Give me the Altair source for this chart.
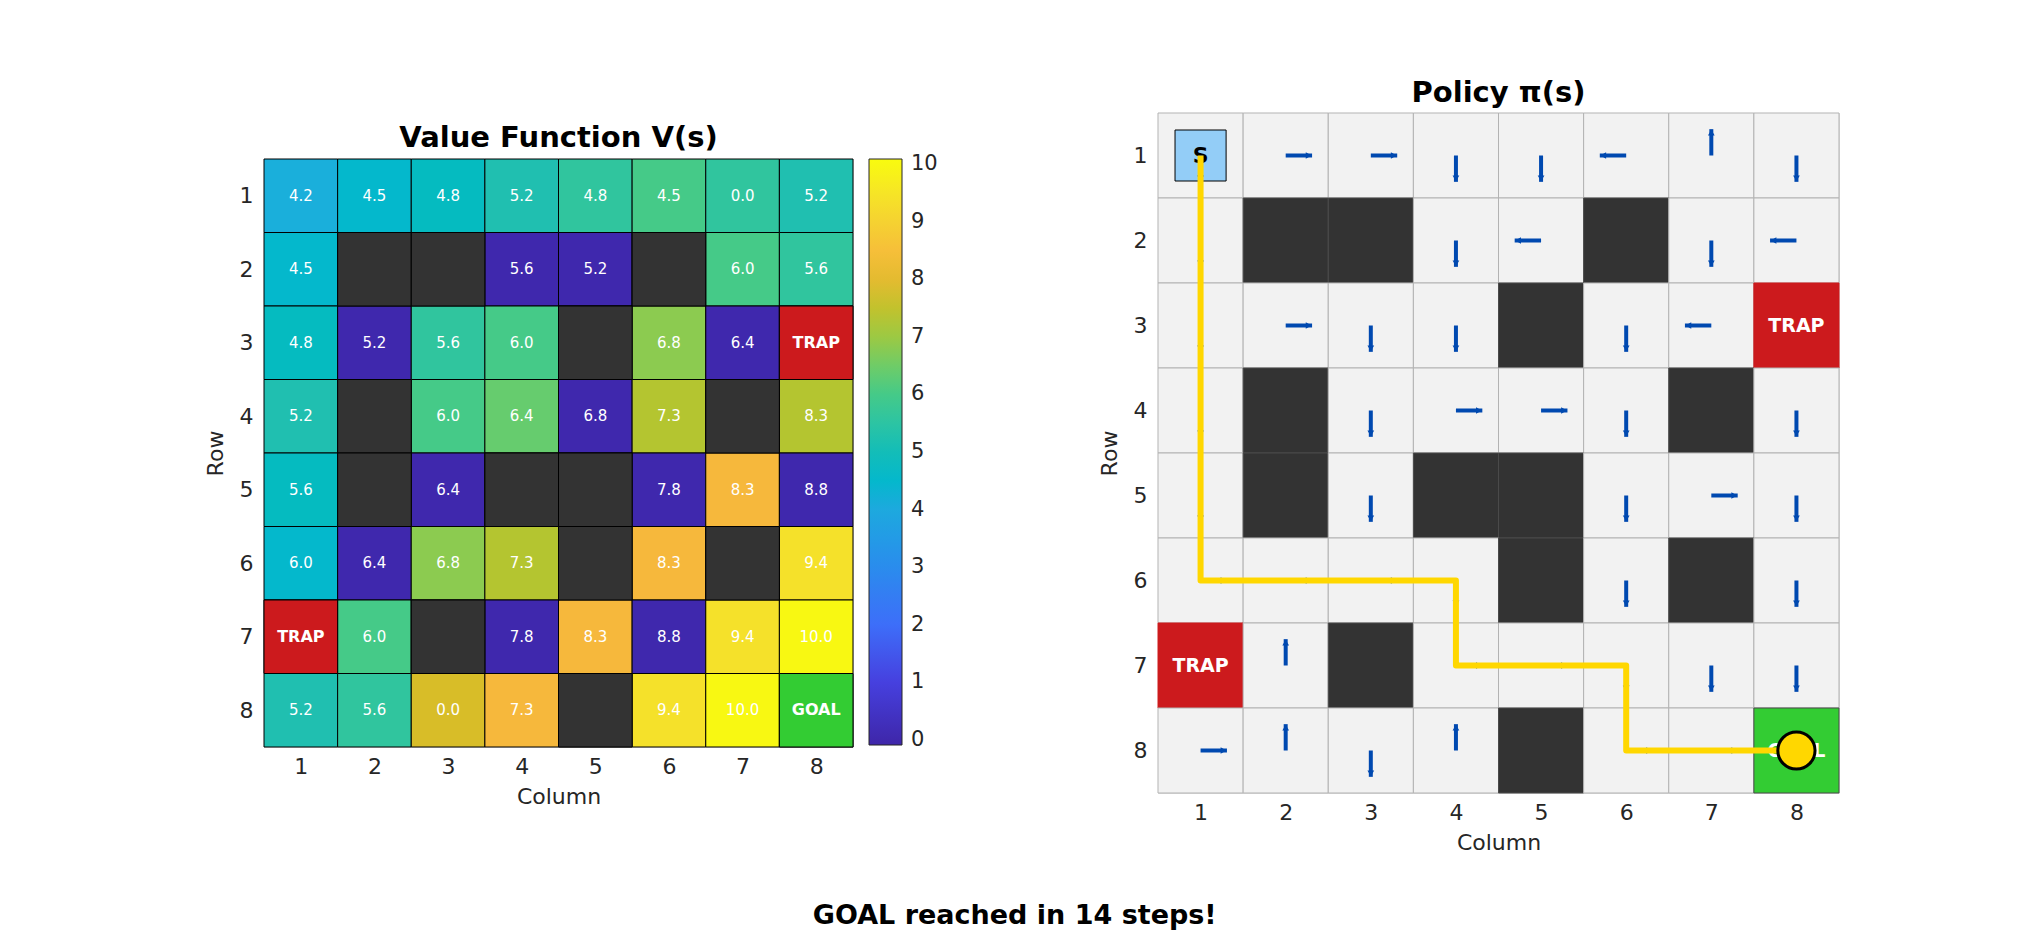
import altair as alt
import pandas as pd

# ---------------- data ----------------
TICKS = [1, 2, 3, 4, 5, 6, 7, 8]

# value matrix as coloured in the left panel (row-major); the printed numbers are its transpose
V = [
    [4.2, 4.5, 4.8, 5.2, 5.6, 6.0, 5.6, 5.2],
    [4.5, 0.0, 5.2, 0.0, 0.0, 6.4, 6.0, 5.6],
    [4.8, 0.0, 5.6, 6.0, 6.4, 6.8, 0.0, 0.0],
    [5.2, 5.6, 6.0, 6.4, 0.0, 7.3, 7.8, 7.3],
    [4.8, 5.2, 0.0, 6.8, 0.0, 0.0, 8.3, 0.0],
    [4.5, 0.0, 6.8, 7.3, 7.8, 8.3, 8.8, 9.4],
    [0.0, 6.0, 6.4, 0.0, 8.3, 0.0, 9.4, 10.0],
    [5.2, 5.6, 7.8, 8.3, 8.8, 9.4, 10.0, 10.0],
]

# S start, # wall, T trap, G goal
GRID = [
    "S.......",
    ".##..#..",
    "....#..T",
    ".#....#.",
    ".#.##...",
    "....#.#.",
    "T.#.....",
    "....#..G",
]

POLICY = [
    "DRRDDLUD",
    "D..DL.DL",
    "DRDD.DL.",
    "D.DRRD.D",
    "D.D..DRD",
    "RRRD.D.D",
    ".U.RRDDD",
    "RUDU.RR.",
]

PATH = [(1, 1), (2, 1), (3, 1), (4, 1), (5, 1), (6, 1), (6, 2), (6, 3), (6, 4),
        (7, 4), (7, 5), (7, 6), (8, 6), (8, 7), (8, 8)]

CBAR_VALUES = [-0.09, 1, 2, 3, 4.2, 4.5, 4.8, 5.2, 5.6, 6.0, 6.4, 6.8, 7.3, 7.8, 8.3, 9.4, 10.09]
CBAR_COLORS = ["#3e26a8", "#4640df", "#3d6ef9", "#2a8ced", "#1aafdb", "#04b8cc", "#05bbc0",
               "#20bfb0", "#30c59e", "#45ca88", "#66cc6e", "#8ccb50", "#b4c530", "#d8bd28",
               "#f6b83c", "#f5e12a", "#f9fb0e"]
CBAR_TICKS = [0, 1, 2, 3, 4, 5, 6, 7, 8, 9, 10]

KIND_FILL_LEFT = {"#": "#333333", "T": "#cc1a1d", "G": "#33cc33"}
KIND_FILL_RIGHT = {".": "#f2f2f2", "S": "#f2f2f2", "#": "#333333", "T": "#cc1a1d", "G": "#33cc33"}
KIND_STROKE_RIGHT = {".": "#b3b3b3", "S": "#b3b3b3", "#": "#4a4a4a", "T": "#cc1a1d", "G": "#4a4a4a"}
KIND_TEXT = {"T": "TRAP", "G": "GOAL"}

DIRS = {"U": (0, -1), "D": (0, 1), "L": (-1, 0), "R": (1, 0)}
ARROW_LEN = 0.31
HEAD_POS = 0.27
BLUE = "#0049b0"
FONT = "DejaVu Sans"
TXT = "#262626"

# ---------------- tables ----------------
rows = []
for r in range(8):
    for c in range(8):
        k = GRID[r][c]
        rows.append(dict(row=r + 1, col=c + 1, kind=k, v=V[r][c], label=V[c][r],
                         x1=c + 0.5, x2=c + 1.5, y1=r + 0.5, y2=r + 1.5,
                         lfill=KIND_FILL_LEFT.get(k, "none"),
                         rfill=KIND_FILL_RIGHT[k], rstroke=KIND_STROKE_RIGHT[k],
                         ktext=KIND_TEXT.get(k, ""),
                         sx1=c + 0.7, sx2=c + 1.3, sy1=r + 0.7, sy2=r + 1.3))
cells = pd.DataFrame(rows)

arrows = []
for r in range(8):
    for c in range(8):
        d = POLICY[r][c]
        if d in DIRS:
            dx, dy = DIRS[d]
            arrows.append(dict(dir=d, ax0=c + 1, ay0=r + 1,
                               ax1=c + 1 + ARROW_LEN * dx, ay1=r + 1 + ARROW_LEN * dy,
                               hx=c + 1 + HEAD_POS * dx, hy=r + 1 + HEAD_POS * dy))
arrows = pd.DataFrame(arrows)

path = pd.DataFrame([dict(step=i, row=p[0], col=p[1]) for i, p in enumerate(PATH)])
agent = path.tail(1)


def enc():
    xs = alt.Scale(domain=[0.5, 8.5], nice=False, zero=False)
    ys = alt.Scale(domain=[0.5, 8.5], nice=False, zero=False, reverse=True)
    axis_common = dict(values=TICKS, format="d", ticks=False, domain=False, grid=False,
                       labelFont=FONT, labelFontSize=22, labelColor=TXT,
                       titleFont=FONT, titleFontSize=22, titleFontWeight="normal",
                       titleColor=TXT)
    ax_x = alt.Axis(orient="bottom", labelPadding=9, titlePadding=9, **axis_common)
    ax_y = alt.Axis(orient="left", labelPadding=11, titlePadding=12, labelAngle=0, **axis_common)

    def X(f):
        return alt.X(f"{f}:Q", scale=xs, axis=ax_x, title="Column")

    def Y(f):
        return alt.Y(f"{f}:Q", scale=ys, axis=ax_y, title="Row")
    return X, Y


# ---------------- left: value function ----------------
X, Y = enc()
base = alt.Chart(cells)
cscale = alt.Scale(domain=CBAR_VALUES, range=CBAR_COLORS, interpolate="rgb")
legend = alt.Legend(orient="right", offset=16, direction="vertical", type="gradient",
                    gradientLength=586, gradientThickness=33, values=CBAR_TICKS,
                    labelFont=FONT, labelFontSize=21, labelColor=TXT, labelOffset=9,
                    labelOverlap=False, title=None, padding=0,
                    gradientStrokeColor=TXT, gradientStrokeWidth=1)

heat = base.mark_rect(stroke="black", strokeWidth=1).encode(
    x=X("x1"), x2="x2", y=Y("y1"), y2="y2",
    color=alt.Color("v:Q", scale=cscale, legend=legend))
over = base.transform_filter("datum.lfill != 'none'").mark_rect(stroke="black", strokeWidth=1).encode(
    x=X("x1"), x2="x2", y=Y("y1"), y2="y2", fill=alt.Fill("lfill:N", scale=None))
nums = base.transform_filter("datum.kind == '.' || datum.kind == 'S'").mark_text(
    color="white", font=FONT, fontSize=15).encode(
    x=X("col"), y=Y("row"), text=alt.Text("label:Q", format=".1f"))
ktxt = base.transform_filter("datum.ktext != ''").mark_text(
    color="white", font=FONT, fontSize=16, fontWeight="bold").encode(
    x=X("col"), y=Y("row"), text="ktext:N")

left = alt.layer(heat, over, nums, ktxt).properties(
    width=589, height=588,
    title=alt.Title("Value Function V(s)", font=FONT, fontSize=29, fontWeight="bold",
                    color="black", offset=6))

# ---------------- right: policy ----------------
X2, Y2 = enc()
rbase = alt.Chart(cells)
rcells = rbase.mark_rect(strokeWidth=1).encode(
    x=X2("x1"), x2="x2", y=Y2("y1"), y2="y2",
    fill=alt.Fill("rfill:N", scale=None), stroke=alt.Stroke("rstroke:N", scale=None))
start_box = rbase.transform_filter("datum.kind == 'S'").mark_rect(
    fill="#93cdf7", stroke="black", strokeWidth=1).encode(
    x=X2("sx1"), x2="sx2", y=Y2("sy1"), y2="sy2")
start_txt = rbase.transform_filter("datum.kind == 'S'").mark_text(
    color="black", font=FONT, fontSize=22, fontWeight="bold").encode(
    x=X2("col"), y=Y2("row"), text=alt.value("S"))
rktxt = rbase.transform_filter("datum.ktext != ''").mark_text(
    color="white", font=FONT, fontSize=19, fontWeight="bold").encode(
    x=X2("col"), y=Y2("row"), text="ktext:N")
shafts = alt.Chart(arrows).mark_rule(color=BLUE, strokeWidth=4).encode(
    x=X2("ax0"), x2="ax1", y=Y2("ay0"), y2="ay1")
heads = alt.Chart(arrows).mark_point(filled=True, color=BLUE, size=45, opacity=1).encode(
    x=X2("hx"), y=Y2("hy"),
    shape=alt.Shape("dir:N", legend=None,
                    scale=alt.Scale(domain=["U", "D", "L", "R"],
                                    range=["triangle-up", "triangle-down",
                                           "triangle-left", "triangle-right"])))
trail = alt.Chart(path).mark_line(color="#ffd700", strokeWidth=6, strokeJoin="round").encode(
    x=X2("col"), y=Y2("row"), order="step:Q")
dot = alt.Chart(agent).mark_point(shape="circle", filled=True, fill="#ffd700", color="#ffd700",
                                  stroke="black", strokeWidth=3, size=1385, opacity=1).encode(
    x=X2("col"), y=Y2("row"))

right = alt.layer(rcells, start_box, start_txt, rktxt, shafts, heads, trail, dot).properties(
    width=681, height=680,
    title=alt.Title("Policy π(s)", font=FONT, fontSize=29, fontWeight="bold",
                    color="black", offset=5))

chart = alt.hconcat(left, right, spacing=305, bounds="flush", center=True).resolve_scale(
    x="independent", y="independent", color="independent", shape="independent"
).properties(
    title=alt.Title("GOAL reached in 14 steps!", orient="bottom", anchor="middle",
                    font=FONT, fontSize=27, fontWeight="bold", color="black",
                    offset=49, dx=-7),
    padding={"left": 195, "top": 70, "right": 5, "bottom": 4},
).configure_view(stroke=None).configure(font=FONT)

chart.save("out.html", embed_options={"renderer": "svg", "actions": False})
